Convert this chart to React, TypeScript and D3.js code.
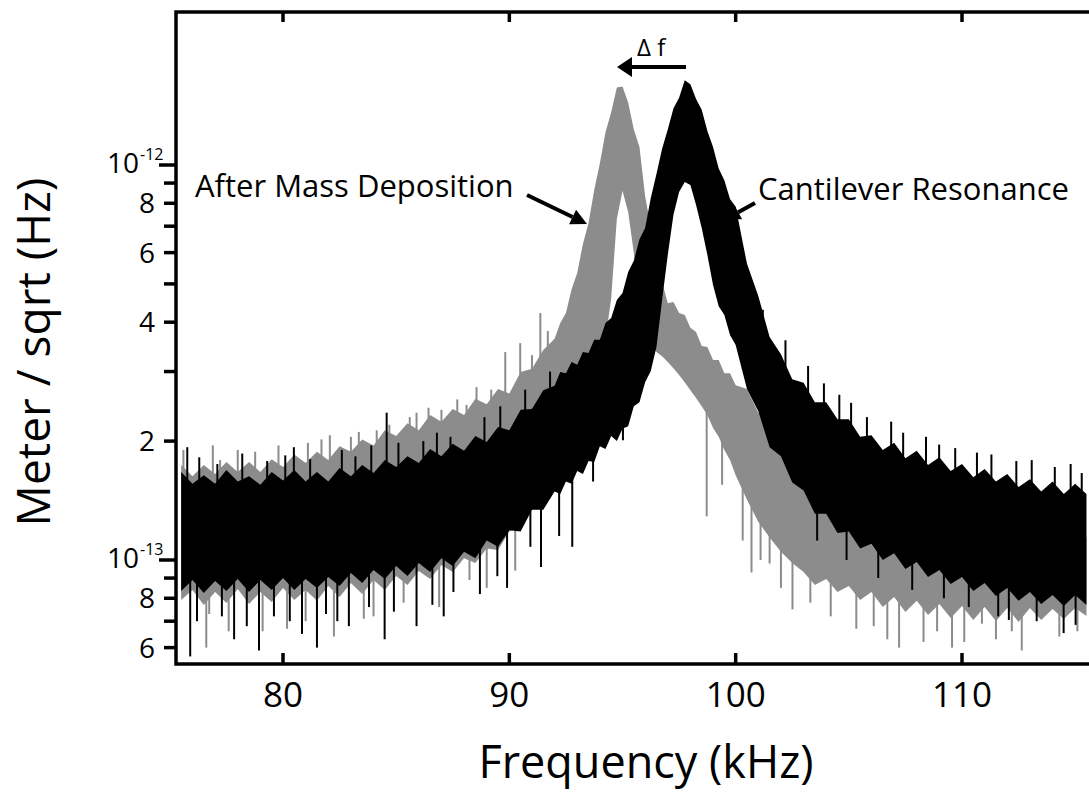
import React from 'react';
import * as d3 from 'd3';

// frequency grid (kHz)
const freqs = [
  75.5, 76, 76.5, 77, 77.5, 78, 78.5, 79, 79.5, 80, 80.5, 81, 81.5, 82, 82.5, 83, 83.5, 84, 84.5, 85,
  85.5, 86, 86.5, 87, 87.5, 88, 88.5, 89, 89.5, 90, 90.5, 91, 91.5,
  92, 92.25, 92.5, 92.75, 93, 93.25, 93.5, 93.75, 94, 94.25, 94.5, 94.75, 95, 95.25, 95.5, 95.75,
  96, 96.25, 96.5, 96.75, 97, 97.25, 97.5, 97.75, 98, 98.25, 98.5, 98.75, 99, 99.25, 99.5, 99.75,
  100, 100.5, 101, 101.5, 102, 102.5, 103, 103.5, 104, 104.5, 105, 105.5, 106, 106.5, 107, 107.5,
  108, 108.5, 109, 109.5, 110, 110.5, 111, 111.5, 112, 112.5, 113, 113.5, 114, 114.5, 115, 115.5
];

// amplitudes in units of 1e-13 m/sqrt(Hz): upper and lower edge of each noisy band
const resonanceHigh = [
  1.67, 1.56, 1.64, 1.56, 1.69, 1.58, 1.63, 1.55, 1.67, 1.59, 1.69, 1.58, 1.67, 1.58, 1.71, 1.63, 1.74, 1.66, 1.79, 1.72,
  1.83, 1.76, 1.91, 1.83, 1.97, 1.89, 2.06, 1.99, 2.17, 2.13, 2.40, 2.41, 2.69,
  2.76, 2.99, 2.97, 3.17, 3.12, 3.36, 3.34, 3.61, 3.61, 3.98, 4.10, 4.55, 4.74, 5.36, 5.72, 6.49,
  6.93, 8.25, 9.49, 11.0, 12.3, 13.9, 14.8, 16.4, 16.0, 14.7, 13.8, 12.2, 11.1, 9.8, 9.15, 8.2,
  7.84, 5.62, 4.66, 3.67, 3.32, 2.87, 2.81, 2.51, 2.51, 2.27, 2.27, 2.05, 2.07, 1.90, 1.98, 1.81,
  1.89, 1.74, 1.82, 1.68, 1.75, 1.62, 1.70, 1.58, 1.65, 1.53, 1.60, 1.49, 1.58, 1.47, 1.56, 1.47
];
const resonanceLow = [
  0.835, 0.890, 0.825, 0.885, 0.835, 0.895, 0.830, 0.890, 0.840, 0.900, 0.840, 0.895, 0.849, 0.905, 0.859, 0.927, 0.875, 0.943, 0.895, 0.966,
  0.911, 0.983, 0.932, 1.01, 0.966, 1.05, 1.01, 1.12, 1.08, 1.19, 1.18, 1.34, 1.34,
  1.49, 1.47, 1.58, 1.56, 1.68, 1.65, 1.78, 1.77, 1.94, 1.91, 2.06, 2.00, 2.15, 2.18, 2.45, 2.51,
  2.82, 3.01, 3.46, 4.55, 5.92, 7.47, 8.54, 9.06, 8.90, 7.92, 6.93, 5.92, 4.97, 4.39, 4.17, 3.71,
  3.50, 2.71, 2.38, 1.93, 1.83, 1.57, 1.50, 1.31, 1.31, 1.17, 1.18, 1.07, 1.10, 1.00, 1.04, 0.949,
  0.988, 0.906, 0.943, 0.870, 0.906, 0.835, 0.875, 0.811, 0.849, 0.788, 0.830, 0.774, 0.816, 0.765, 0.816, 0.769
];
const depositedHigh = [
  1.74, 1.63, 1.74, 1.65, 1.77, 1.67, 1.77, 1.67, 1.80, 1.72, 1.85, 1.76, 1.88, 1.79, 1.94, 1.88, 2.02, 1.95, 2.13, 2.06,
  2.22, 2.13, 2.33, 2.24, 2.41, 2.33, 2.56, 2.48, 2.71, 2.64, 2.99, 3.05, 3.40,
  3.63, 3.98, 4.22, 4.85, 5.33, 6.31, 7.13, 8.64, 10.1, 12.1, 13.6, 15.7, 15.8, 14.4, 12.3, 11.1,
  8.33, 6.97, 5.65, 5.05, 4.47, 4.50, 4.22, 4.17, 3.87, 3.78, 3.48, 3.46, 3.21, 3.21, 2.97, 2.97,
  2.77, 2.71, 2.36, 2.20, 2.01, 1.85, 1.69, 1.59, 1.50, 1.44, 1.38, 1.34, 1.30, 1.28, 1.25, 1.23,
  1.22, 1.20, 1.19, 1.18, 1.18, 1.17, 1.16, 1.16, 1.16, 1.15, 1.15, 1.14, 1.14, 1.14, 1.14, 1.14
];
const depositedLow = [
  0.792, 0.840, 0.769, 0.830, 0.778, 0.845, 0.774, 0.830, 0.783, 0.849, 0.792, 0.840, 0.788, 0.859, 0.806, 0.875, 0.820, 0.890, 0.840, 0.911,
  0.865, 0.938, 0.895, 0.971, 0.932, 1.01, 0.983, 1.07, 1.06, 1.18, 1.21, 1.38, 1.46,
  1.64, 1.71, 1.81, 1.90, 2.04, 2.20, 2.43, 2.69, 3.06, 3.61, 4.6, 7.3, 8.6, 7.6, 6.0, 4.4,
  3.71, 3.50, 3.36, 3.28, 3.17, 3.06, 2.94, 2.82, 2.69, 2.57, 2.45, 2.33, 2.16, 2.05, 1.90, 1.79,
  1.64, 1.42, 1.25, 1.14, 1.05, 0.983, 0.932, 0.865, 0.895, 0.830, 0.859, 0.792, 0.830, 0.760, 0.806, 0.739,
  0.788, 0.726, 0.774, 0.713, 0.765, 0.705, 0.760, 0.701, 0.756, 0.697, 0.756, 0.705, 0.751, 0.709, 0.756, 0.722
];

// isolated noise spikes sticking out of the bands [kHz, 1e-13 m/sqrt(Hz)]
const resonanceSpikes = [
  [75.9, 0.57], [77.84, 0.63], [78.94, 0.59], [80.84, 0.65], [81.5, 0.6], [82.91, 0.68], [84.49, 0.63],
  [85.9, 0.68], [87.53, 0.83], [89.47, 0.91], [90.93, 1.08], [92.78, 1.08], [93.7, 1.58], [95.02, 2.01],
  [76.2, 0.70], [77.3, 0.72], [78.4, 0.68], [79.6, 0.72], [80.3, 0.70], [81.9, 0.73], [82.4, 0.70],
  [83.8, 0.76], [84.9, 0.74], [86.6, 0.77], [87.1, 0.72], [88.7, 0.82], [89.9, 0.85], [91.4, 0.96], [92.2, 1.15],
  [75.77, 1.93], [80.48, 1.93], [84.58, 2.36],
  [76.3, 1.82], [77.1, 1.75], [78.2, 1.86], [79.3, 1.78], [80.1, 1.84], [81.2, 1.80], [82.6, 1.90], [83.2, 1.83],
  [83.9, 1.95], [85.1, 1.98], [86.2, 2.0], [86.8, 2.1], [87.4, 2.05], [88.9, 2.3], [89.6, 2.45], [90.7, 2.7], [91.8, 3.0],
  [101.2, 4.3], [102.2, 3.6], [103.2, 3.1], [103.9, 2.8], [105.1, 2.5], [105.8, 2.3], [107.4, 2.1],
  [109.7, 1.92], [111.3, 1.85], [112.4, 1.78], [114.1, 1.72], [114.8, 1.75],
  [104.58, 2.62], [106.87, 2.24], [108.41, 2.05], [108.99, 1.96], [110.66, 1.87], [113.08, 1.79], [115.29, 1.66],
  [103.6, 1.12], [104.9, 1.0], [106.3, 0.9], [107.8, 0.84], [109.2, 0.8], [110.3, 0.76], [111.6, 0.72], [113.3, 0.70],
  [112.07, 0.705], [114.49, 0.653], [115.02, 0.685]
];
const depositedSpikes = [
  [76.61, 0.6], [76.74, 0.73], [80.18, 0.67], [82.25, 0.64], [83.57, 0.71], [85.33, 0.78], [88.24, 0.89], [90.26, 0.94],
  [77.6, 0.66], [79.1, 0.66], [81.0, 0.7], [84.0, 0.72], [86.9, 0.76], [89.0, 0.85],
  [77.22, 1.79], [78.77, 1.88], [82.07, 2.07], [83.35, 2.11], [84.14, 2.13], [85.9, 2.36], [86.43, 2.43],
  [88.11, 2.47], [88.55, 2.74], [89.82, 3.36], [90.48, 3.54], [91.37, 4.22],
  [75.6, 1.9], [76.9, 1.95], [78.0, 1.9], [79.8, 1.95], [81.1, 1.98], [81.7, 2.02], [83.0, 2.05],
  [84.7, 2.2], [85.6, 2.3], [87.0, 2.4], [87.7, 2.55], [89.2, 2.7], [91.0, 3.3], [91.7, 3.8],
  [98.72, 1.29], [100.31, 1.12], [100.7, 0.93], [101.5, 0.98], [102.51, 0.75], [105.33, 0.67],
  [107.22, 0.6], [109.56, 0.6], [110.88, 0.69], [112.64, 0.59], [113.7, 0.76],
  [99.4, 1.55], [101.1, 1.0], [102.0, 0.85], [103.3, 0.78], [104.2, 0.72], [106.1, 0.68], [106.7, 0.63],
  [108.3, 0.62], [108.9, 0.66], [110.1, 0.62], [111.5, 0.63], [112.2, 0.66], [114.3, 0.64], [115.1, 0.66]
];

const UNIT = 1e-13;
const xTicks = [80, 90, 100, 110];
const decadeTicks = [1e-12, 1e-13];
const decadeExponents = ['-12', '-13'];
const minorTicks = [9e-13, 8e-13, 7e-13, 6e-13, 5e-13, 4e-13, 3e-13, 2e-13, 9e-14, 8e-14, 7e-14, 6e-14];
const minorLabelValues = [8e-13, 6e-13, 4e-13, 2e-13, 8e-14, 6e-14];
const minorLabels = ['8', '6', '4', '2', '8', '6'];

const FONT = "'Open Sans', sans-serif";

const Arrow = ({ x1, y1, x2, y2, head = 16, half = 8 }) => {
  const a = Math.atan2(y2 - y1, x2 - x1);
  const bx = x2 - head * Math.cos(a);
  const by = y2 - head * Math.sin(a);
  const px = -Math.sin(a) * half;
  const py = Math.cos(a) * half;
  return (
    <g>
      <line x1={x1} y1={y1} x2={bx} y2={by} stroke="#000" strokeWidth={4} />
      <polygon points={`${x2},${y2} ${bx + px},${by + py} ${bx - px},${by - py}`} fill="#000" />
    </g>
  );
};

export default function App() {
  const W = 1089, H = 792;
  const left = 176, top = 12, bottom = 664, right = 1100;

  const x = d3.scaleLinear().domain([80, 110]).range([283, 962]);
  const y = d3.scaleLog().domain([1e-13, 1e-12]).range([560, 165]);

  const band = (hi, lo) =>
    d3.area()
      .x((_, i) => x(freqs[i]))
      .y0((_, i) => y(lo[i] * UNIT))
      .y1((_, i) => y(hi[i] * UNIT))(freqs);

  const spikes = (list, hi, lo, color) =>
    list.map(([f, v], k) => {
      const i = Math.min(freqs.length - 1, d3.bisectLeft(freqs, f));
      const mid = Math.sqrt(hi[i] * lo[i]);
      return (
        <line key={k} x1={x(f)} x2={x(f)} y1={y(mid * UNIT)} y2={y(v * UNIT)}
              stroke={color} strokeWidth={2} />
      );
    });

  const gray = '#8c8c8c';

  return (
    <svg width={W} height={H} style={{ position: 'absolute', left: 0, top: 0, display: 'block' }}
         fontFamily={FONT}>
      <defs>
        <clipPath id="plot">
          <rect x={left} y={top} width={right - left} height={bottom - top} />
        </clipPath>
      </defs>
      <rect width={W} height={H} fill="#fff" />

      <g clipPath="url(#plot)">
        <path d={band(depositedHigh, depositedLow)} fill={gray} />
        {spikes(depositedSpikes, depositedHigh, depositedLow, gray)}
        <path d={band(resonanceHigh, resonanceLow)} fill="#000" />
        {spikes(resonanceSpikes, resonanceHigh, resonanceLow, '#000')}
      </g>

      {/* frame */}
      <path d={`M${right},${top}H${left}V${bottom}H${right}`} fill="none" stroke="#000" strokeWidth={3.5} />

      {/* x ticks, inside, top and bottom */}
      {xTicks.map(t => (
        <g key={t}>
          <line x1={x(t)} x2={x(t)} y1={bottom} y2={bottom - 11} stroke="#000" strokeWidth={3.5} />
          <line x1={x(t)} x2={x(t)} y1={top} y2={top + 10} stroke="#000" strokeWidth={3.5} />
          <text x={x(t)} y={707} fontSize={35} textAnchor="middle">{t}</text>
        </g>
      ))}

      {/* y ticks, outside */}
      {decadeTicks.map((t, i) => (
        <g key={t}>
          <line x1={left} x2={left - 17} y1={y(t)} y2={y(t)} stroke="#000" strokeWidth={3.5} />
          <text x={139} y={y(t) + 8} fontSize={28} textAnchor="end">10</text>
          <text x={140} y={y(t) - 5} fontSize={16}>{decadeExponents[i]}</text>
        </g>
      ))}
      {minorTicks.map(t => (
        <line key={t} x1={left} x2={left - 12} y1={y(t)} y2={y(t)} stroke="#000" strokeWidth={3.5} />
      ))}
      {minorLabelValues.map((t, i) => (
        <text key={t} x={155} y={y(t) + 10} fontSize={28} textAnchor="end">{minorLabels[i]}</text>
      ))}

      {/* axis titles */}
      <text transform="translate(50,352) rotate(-90)" fontSize={46} textAnchor="middle">Meter / sqrt (Hz)</text>
      <text x={646} y={778} fontSize={45} textAnchor="middle">Frequency (kHz)</text>

      {/* annotations */}
      <text x={637} y={56} fontSize={24}>Δ f</text>
      <Arrow x1={686} y1={67} x2={617} y2={67} head={15} half={10} />
      <text x={195} y={197} fontSize={31}>After Mass Deposition</text>
      <Arrow x1={527} y1={195} x2={587} y2={224} />
      <text x={758} y={200} fontSize={31}>Cantilever Resonance</text>
      <Arrow x1={755} y1={203} x2={726} y2={219} head={14} half={8} />
    </svg>
  );
}
